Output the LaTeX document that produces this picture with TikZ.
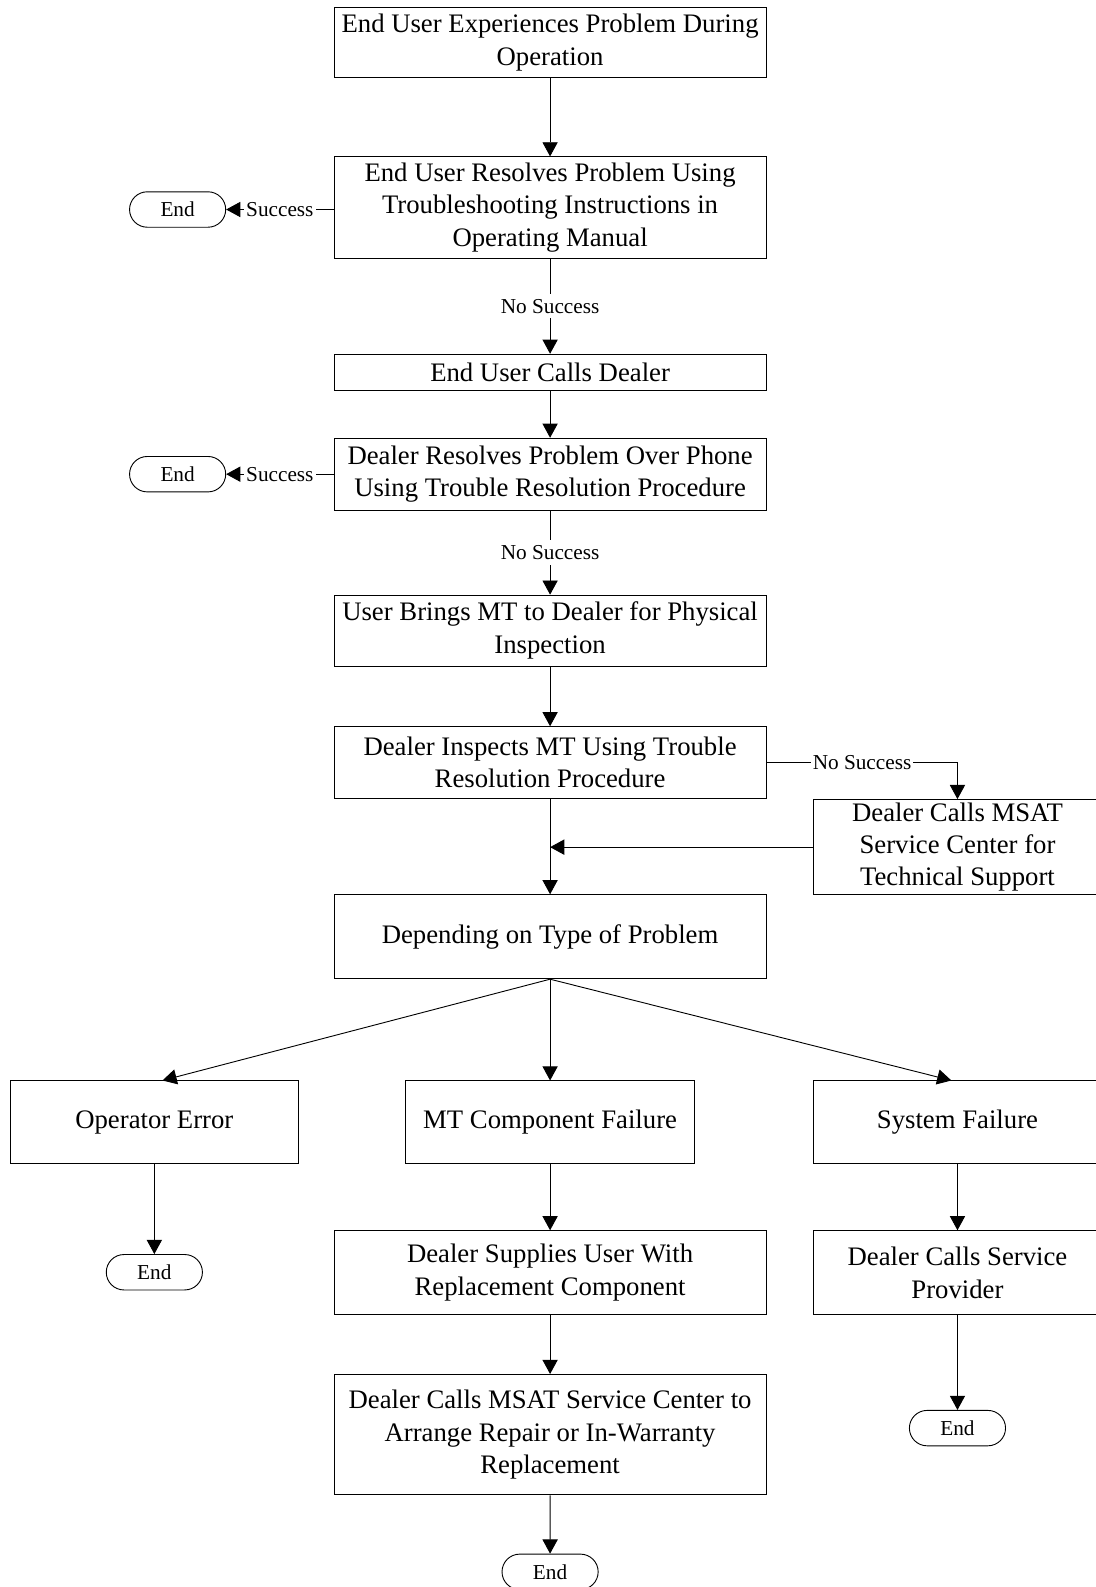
\documentclass[tikz,border=0pt]{standalone}
\usepackage{fontspec}
\setmainfont{Liberation Serif}
\usetikzlibrary{positioning,shapes.misc,arrows.meta,calc}

\begin{document}
\begin{tikzpicture}[x=1pt, y=-1pt,
  every node/.style={font=\fontsize{26.4}{32}\selectfont},
  bb/.style={rectangle, draw, line width=0.9pt, minimum width=427pt,
             align=center, inner sep=0pt},
  sidebb/.style={bb, minimum width=284pt},
  endbb/.style={rounded rectangle, draw, line width=0.9pt, minimum width=95pt,
                minimum height=35pt, inner sep=0pt, font=\fontsize{21}{25}\selectfont},
  lbl/.style={fill=white, inner xsep=2pt, inner ysep=5pt, font=\fontsize{21}{25}\selectfont},
  arrowstyle/.style={-{Triangle[length=14pt,width=15pt]}, line width=0.9pt}
]
  \useasboundingbox (0,0) rectangle (1082,1568);

  \node[bb, minimum height=70pt] (exp) at (543.5,42) {End User Experiences Problem During\\Operation};
  \node[bb, minimum height=100pt] (manual) at (543.5,205) {End User Resolves Problem Using\\Troubleshooting Instructions in\\Operating Manual};
  \node[endbb] (endA) at (175.5,207) {End};
  \node[bb, minimum height=36pt] (calls) at (543.5,368) {End User Calls Dealer};
  \node[bb, minimum height=71pt] (phone) at (543.5,468.5) {Dealer Resolves Problem Over Phone\\Using Trouble Resolution Procedure};
  \node[endbb] (endB) at (175.5,468.5) {End};
  \node[bb, minimum height=70pt] (brings) at (543.5,623) {User Brings MT to Dealer for Physical\\Inspection};
  \node[bb, minimum height=71pt] (insp) at (543.5,753.5) {Dealer Inspects MT Using Trouble\\Resolution Procedure};
  \node[sidebb, minimum height=94pt] (msat) at (946,837) {Dealer Calls MSAT\\Service Center for\\Technical Support};
  \node[bb, minimum height=83pt] (dep) at (543.5,925.5) {Depending on Type of Problem};

  \node[sidebb, minimum width=285pt, minimum height=82pt] (opr) at (152.5,1109) {Operator Error};
  \node[sidebb, minimum width=285pt, minimum height=82pt] (comp) at (543.5,1109) {MT Component Failure};
  \node[sidebb, minimum height=82pt] (sys) at (946,1109) {System Failure};

  \node[endbb] (endC) at (152.5,1257) {End};
  \node[bb, minimum height=83pt] (supply) at (543.5,1257.5) {Dealer Supplies User With\\Replacement Component};
  \node[sidebb, minimum height=83pt] (prov) at (946,1257.5) {Dealer Calls Service\\Provider};
  \node[bb, minimum height=119pt] (repair) at (543.5,1417.5) {Dealer Calls MSAT Service Center to\\Arrange Repair or In-Warranty\\Replacement};
  \node[endbb] (endD) at (946,1411) {End};
  \node[endbb] (endE) at (543.5,1553) {End};

  \coordinate (join) at (msat.west -| insp.south);

  \draw[arrowstyle] (exp) -- (manual);
  \draw[arrowstyle] (manual.west |- endA) -- node[lbl] {Success} (endA.east);
  \draw[arrowstyle] (manual) -- node[lbl] {No Success} (calls);
  \draw[arrowstyle] (calls) -- (phone);
  \draw[arrowstyle] (phone.west) -- node[lbl] {Success} (endB.east);
  \draw[arrowstyle] (phone) -- node[lbl] {No Success} (brings);
  \draw[arrowstyle] (brings) -- (insp);
  \draw[arrowstyle] (insp.east) -- node[lbl] {No Success} (insp.east -| msat.north) -- (msat.north);
  \draw[arrowstyle] (insp) -- (dep);
  \draw[arrowstyle] (msat.west) -- (join);
  \draw[arrowstyle] (dep.south) -- ([xshift=8pt]opr.north);
  \draw[arrowstyle] (dep.south) -- (comp.north);
  \draw[arrowstyle] (dep.south) -- ([xshift=-6pt]sys.north);
  \draw[arrowstyle] (opr) -- (endC);
  \draw[arrowstyle] (comp) -- (supply);
  \draw[arrowstyle] (sys) -- (prov);
  \draw[arrowstyle] (supply) -- (repair);
  \draw[arrowstyle] (prov) -- (endD);
  \draw[arrowstyle] (repair) -- (endE);
\end{tikzpicture}
\end{document}
